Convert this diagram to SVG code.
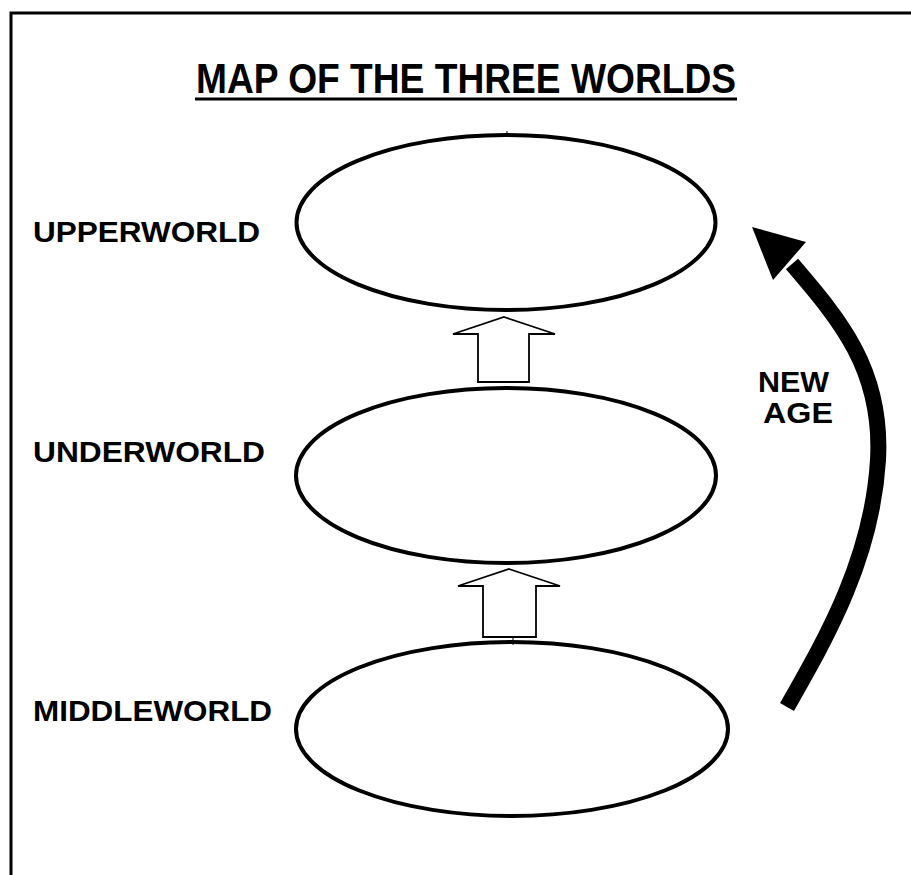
<svg xmlns="http://www.w3.org/2000/svg" width="911" height="875" viewBox="0 0 911 875">
<style>
.world{fill:#fff;stroke:#000;stroke-width:4}
.lbl{font-family:"Liberation Sans",Arial,sans-serif;font-weight:bold;font-size:30px;fill:#000}
.hollow{fill:#fff;stroke:#000;stroke-width:1.8;stroke-linejoin:miter}
</style>
<rect width="911" height="875" fill="#fff"/>
<g id="frame">
<path d="M11,875 V13 H911" fill="none" stroke="#000" stroke-width="3"/>
</g>
<g id="title">
<text x="466" y="93" text-anchor="middle" font-family="'Liberation Sans',Arial,sans-serif" font-weight="bold" font-size="42" textLength="540" lengthAdjust="spacingAndGlyphs">MAP OF THE THREE WORLDS</text>
<line x1="195" y1="99" x2="737" y2="99" stroke="#000" stroke-width="3"/>
</g>
<g id="upperworld">
<ellipse class="world" cx="506" cy="222.5" rx="209.5" ry="87.5"/>
<text class="lbl" x="33" y="242" textLength="227" lengthAdjust="spacingAndGlyphs">UPPERWORLD</text>
</g>
<g id="underworld">
<ellipse class="world" cx="506" cy="475.5" rx="210" ry="87.5"/>
<text class="lbl" x="33" y="462" textLength="232" lengthAdjust="spacingAndGlyphs">UNDERWORLD</text>
</g>
<g id="middleworld">
<ellipse class="world" cx="512" cy="729" rx="216" ry="87"/>
<text class="lbl" x="33" y="721" textLength="239" lengthAdjust="spacingAndGlyphs">MIDDLEWORLD</text>
</g>
<g id="connectors">
<line x1="507" y1="131" x2="507" y2="137" stroke="#000" stroke-width="1"/>
<line x1="513" y1="637" x2="513" y2="645" stroke="#000" stroke-width="1"/>
<polygon class="hollow" points="504,317 555,334 529,334 529,382 478,382 478,334 453,334"/>
<polygon class="hollow" points="509,569 560,586 536,586 536,637 483,637 483,586 458,586"/>
<path d="M787,707 C825,640 872,560 878,460 C883,370 840,320 792,264" fill="none" stroke="#000" stroke-width="16"/>
<polygon points="752,227 806,242 773,280" fill="#000"/>
<text class="lbl" x="758" y="392" textLength="71" lengthAdjust="spacingAndGlyphs">NEW</text>
<text class="lbl" x="763" y="423" textLength="70" lengthAdjust="spacingAndGlyphs">AGE</text>
</g>
</svg>
